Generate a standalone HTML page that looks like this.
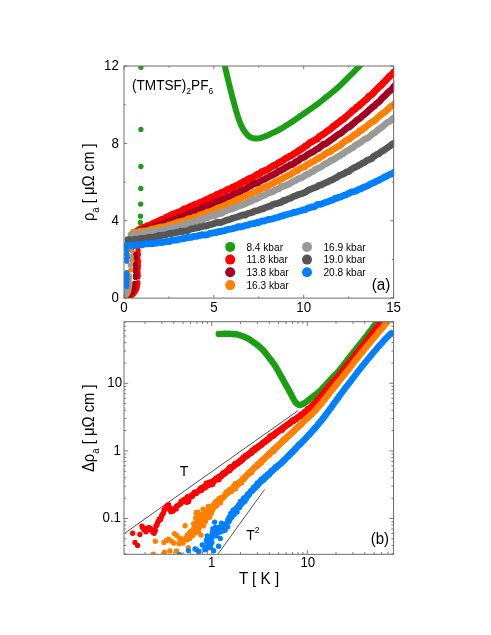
<!DOCTYPE html>
<html><head><meta charset="utf-8"><title>Resistivity of (TMTSF)2PF6</title>
<style>
html,body{margin:0;padding:0;background:#fff;}
body{width:491px;height:635px;overflow:hidden;}
svg{display:block;font-family:"Liberation Sans",sans-serif;fill:#000;will-change:transform;}
</style></head><body>
<svg width="491" height="635" viewBox="0 0 491 635">
<rect width="491" height="635" fill="#ffffff"/>
<defs>
<clipPath id="ca"><rect x="124.0" y="66.0" width="270.20000000000005" height="232.10000000000002"/></clipPath>
<clipPath id="cb"><rect x="124.0" y="321.7" width="270.15000000000003" height="232.59999999999997"/></clipPath>
</defs>
<g clip-path="url(#ca)">
<polyline points="221,49 221.6,51.6 222.1,54.2 222.7,56.8 223.3,59.4 223.9,62 224.5,64.6 225.1,67.2 225.7,69.8 226.3,72.4 226.9,75 227.5,77.6 228.2,80.2 228.8,82.8 229.4,85.4 230.1,88 230.7,90.6 231.4,93.1 232,95.7 232.7,98.3 233.4,100.9 234.1,103.5 234.8,106 235.5,108.6 236.2,111.2 237,113.7 237.8,116.3 238.6,118.8 239.5,121.3 240.5,123.8 241.6,126.2 242.8,128.6 244.2,130.9 245.8,133 247.6,135.1 249.7,136.8 252.1,137.9 254.7,138.4 257.4,138.5 260,138.1 262.6,137.3 265.1,136.4 267.6,135.4 270,134.3 272.4,133.1 274.8,132 277.2,130.8 279.6,129.5 281.9,128.2 284.2,126.8 286.4,125.4 288.7,124 290.9,122.5 293.1,121.1 295.4,119.6 297.6,118.1 299.7,116.5 301.9,115 304.1,113.4 306.3,111.9 308.4,110.4 310.6,108.9 312.9,107.4 315.1,105.8 317.2,104.3 319.3,102.7 321.4,101 323.5,99.3 325.5,97.6 327.6,96 329.7,94.3 331.8,92.7 333.9,91 335.9,89.3 337.9,87.5 339.9,85.7 341.8,83.8 343.7,81.9 345.6,80.1 347.5,78.2 349.4,76.3 351.3,74.4 353.2,72.5 355,70.6 356.9,68.7 358.8,66.8 360.6,64.9 362.4,63 364.2,61 366,59" fill="none" stroke="#1a9e14" stroke-width="6" stroke-linecap="round" stroke-linejoin="round"/>
<path d="M140.9 67.3h0M140.9 129.4h0M140.9 166.5h0M140.8 188.5h0M140.7 204.1h0M140.5 216.2h0M140.3 222.4h0M140.1 228h0" fill="none" stroke="#1a9e14" stroke-width="5.3" stroke-linecap="round"/>
<polyline points="138.7,229.9 140.4,229.2 142.2,228.3 143.9,227.3 145.6,226.7 147.4,225.8 149.1,225.3 150.8,224.9 152.6,223.6 154.3,222.8 156,222.3 157.8,221.5 159.5,220.7 161.2,219.6 163,219.1 164.7,218.6 166.4,217.2 168.2,216.7 169.9,215.5 171.6,214.9 173.4,214 175.1,213.7 176.8,212.6 178.6,212.3 180.3,211.5 182,210.6 183.8,209.1 185.5,209 187.2,208.3 189,207.6 190.7,206.3 192.4,205.9 194.2,205 195.9,204.2 197.6,204 199.4,202.7 201.1,202.1 202.8,201.6 204.6,200.4 206.3,199.7 208,199 209.8,198.2 211.5,197 213.2,196.6 215,196.1 216.7,194.4 218.4,194.4 220.2,193.3 221.9,192.3 223.6,192.2 225.4,191 227.1,189.6 228.8,189.2 230.6,188.5 232.3,187.4 234,186.8 235.8,185.7 237.5,185.1 239.2,184.5 241,183 242.7,182.4 244.4,181.3 246.2,180.6 247.9,179.3 249.6,178.6 251.4,177.8 253.1,177.2 254.8,176.4 256.6,174.7 258.3,174 260,173.5 261.8,171.7 263.5,171.3 265.2,170.4 267,169.9 268.7,168.8 270.5,167.5 272.2,166.5 273.9,165.5 275.7,165.1 277.4,163.5 279.1,162.5 280.9,161.7 282.6,160.6 284.3,159.5 286.1,158.2 287.8,157.5 289.5,156.3 291.3,155.7 293,154.5 294.7,153.2 296.5,152.3 298.2,150.9 299.9,150.3 301.7,148.8 303.4,147.9 305.1,146.2 306.9,145.5 308.6,143.8 310.3,142.5 312.1,141.8 313.8,140.5 315.5,139.6 317.3,139 319,136.9 320.7,135.7 322.5,134.7 324.2,133.6 325.9,132.1 327.7,130.8 329.4,129.8 331.1,128.5 332.9,126.7 334.6,125.6 336.3,124.4 338.1,122.7 339.8,121.7 341.5,120 343.3,119.2 345,117.5 346.7,116.1 348.5,114.5 350.2,113.2 351.9,111.2 353.7,110 355.4,108.9 357.1,106.7 358.9,106.1 360.6,103.8 362.3,103 364.1,101 365.8,99.9 367.5,98.1 369.3,96 371,95.3 372.7,93.7 374.5,91.6 376.2,89.9 377.9,88.2 379.7,86.3 381.4,85.2 383.1,83 384.9,81.4 386.6,79.4 388.3,77.7 390.1,75.7 391.8,74.7 393.5,72.4 395.3,70.9 397,68.8" fill="none" stroke="#ff0000" stroke-width="7" stroke-linecap="round" stroke-linejoin="round"/>
<path d="M137.9 231.4h0M139.6 233.4h0M139 235.4h0M138.2 237.4h0M138.2 239.8h0M138.8 242.1h0M138.3 244.2h0M138.1 250h0M138.1 251.9h0M138.4 254.4h0M137.9 256.6h0M138.1 259h0M138.5 261.6h0M138.3 263.9h0M138.4 265.8h0M138.3 267.9h0M137.9 270.4h0M138.1 272.3h0M138.3 274.7h0M138.1 277h0M138 282.5h0M137.7 285h0M137.2 287.5h0M136.3 290h0M135 292.3h0M133.4 294.3h0M131.6 296h0M129.5 297.3h0M128 297.6h0M126.5 297.6h0M125 297.6h0" fill="none" stroke="#ff0000" stroke-width="5.2" stroke-linecap="round"/>
<polyline points="137,231.1 138.7,230.7 140.5,230.3 142.2,230.2 144,229.6 145.7,229 147.5,228.3 149.2,227.5 151,227.7 152.7,227.2 154.4,226.3 156.2,226 157.9,225.5 159.7,224.9 161.4,224.4 163.2,223.4 164.9,223.4 166.7,222 168.4,222 170.2,221.3 171.9,220.8 173.6,220.4 175.4,219.7 177.1,218.2 178.9,217.4 180.6,217.5 182.4,216.3 184.1,215.9 185.9,215.5 187.6,214.1 189.3,213.2 191.1,213.2 192.8,212.5 194.6,211.7 196.3,211 198.1,210 199.8,209.1 201.6,208.8 203.3,207.8 205.1,206.8 206.8,206.7 208.5,205.8 210.3,205.2 212,204 213.8,203.3 215.5,202.5 217.3,201.7 219,201.3 220.8,200.2 222.5,199.7 224.2,198.9 226,198.6 227.7,196.8 229.5,196.6 231.2,195.5 233,194.7 234.7,193.5 236.5,192.9 238.2,192.5 240,191.4 241.7,190.6 243.4,189.6 245.2,189.2 246.9,188 248.7,186.5 250.4,186.1 252.2,184.8 253.9,183.6 255.7,183.5 257.4,183.2 259.1,181.9 260.9,180.6 262.6,179.8 264.4,179.5 266.1,178.3 267.9,177.4 269.6,176.4 271.4,175.5 273.1,174.8 274.9,173.8 276.6,172.8 278.3,171.4 280.1,171 281.8,169.6 283.6,169.2 285.3,167.5 287.1,166.9 288.8,165.9 290.6,164.6 292.3,164.5 294,163.4 295.8,161.8 297.5,161.2 299.3,160 301,158.1 302.8,157.9 304.5,156.8 306.3,155.8 308,154.3 309.8,153.5 311.5,152.5 313.2,151.8 315,150.4 316.7,149.2 318.5,148.6 320.2,146.8 322,145.7 323.7,144.1 325.5,144 327.2,142.6 328.9,141.4 330.7,140.2 332.4,138.8 334.2,137.6 335.9,136.3 337.7,135 339.4,133.9 341.2,133 342.9,131.5 344.7,130 346.4,128.5 348.1,127.2 349.9,126.5 351.6,124.9 353.4,123.4 355.1,121.9 356.9,120.2 358.6,119.1 360.4,118 362.1,116.2 363.8,114.8 365.6,113.3 367.3,111.9 369.1,109.9 370.8,108.7 372.6,107 374.3,106 376.1,103.9 377.8,102.7 379.6,101.3 381.3,99.1 383,97.4 384.8,95.9 386.5,94.1 388.3,92.1 390,90.8 391.8,89.5 393.5,87 395.3,85.2 397,83.1" fill="none" stroke="#a40021" stroke-width="6.8" stroke-linecap="round" stroke-linejoin="round"/>
<path d="M136.4 232.7h0M135.8 234.7h0M135.5 236.7h0M135.1 238.7h0M135.1 241.1h0M135.9 243h0M135.6 245.5h0M135.3 254h0M135 256h0M135.8 258.2h0M135.1 260.1h0M135.2 262.3h0M135.3 264.6h0M135.5 266.8h0M135.4 269.1h0M135.4 271.3h0M136 273.7h0M135.4 275.7h0M135.5 277.5h0M134.7 283.3h0M134.4 286h0M133.8 288.5h0M132.8 291h0M131.4 293.2h0M129.7 295h0M127.8 296.5h0M126 297.5h0" fill="none" stroke="#a40021" stroke-width="5.2" stroke-linecap="round"/>
<polyline points="133,232.2 134.8,232.6 136.5,232.3 138.3,231.8 140.1,231.1 141.9,231.2 143.6,230.8 145.4,230.9 147.2,231 148.9,230.1 150.7,229.4 152.5,228.9 154.3,228.9 156,228.4 157.8,227.7 159.6,227.7 161.3,226.9 163.1,227.1 164.9,226.6 166.7,226.2 168.4,225.2 170.2,225 172,224.3 173.8,223.7 175.5,223.2 177.3,222.4 179.1,221.8 180.8,222 182.6,221.1 184.4,220.7 186.2,220.3 187.9,218.9 189.7,218.6 191.5,218.3 193.2,217.7 195,216.9 196.8,216.7 198.6,215.8 200.3,214.7 202.1,214.2 203.9,214 205.6,213.3 207.4,211.9 209.2,212.2 211,211.3 212.7,210.8 214.5,209.6 216.3,208.9 218,207.9 219.8,208.3 221.6,206.8 223.4,206.6 225.1,205.2 226.9,204.7 228.7,203.4 230.4,203 232.2,202.6 234,201.2 235.8,201.1 237.5,200.1 239.3,198.9 241.1,198.3 242.9,197.5 244.6,196.8 246.4,195.9 248.2,195 249.9,194.3 251.7,193.3 253.5,192.4 255.3,191.9 257,191.4 258.8,189.8 260.6,189.4 262.3,188.4 264.1,187.4 265.9,187.1 267.7,185.8 269.4,185.5 271.2,184 273,183.4 274.7,182.3 276.5,181.3 278.3,180.8 280.1,179.7 281.8,179 283.6,177.8 285.4,176.6 287.1,176 288.9,175.1 290.7,174.4 292.5,172.9 294.2,172.2 296,170.7 297.8,170.5 299.6,169 301.3,167.8 303.1,167.3 304.9,166.7 306.6,164.9 308.4,164 310.2,163.1 312,162 313.7,161.4 315.5,160 317.3,159 319,158.3 320.8,156.8 322.6,156.1 324.4,154.6 326.1,153.5 327.9,152.2 329.7,152.2 331.4,150.4 333.2,149.5 335,148.3 336.8,147.2 338.5,146 340.3,145.4 342.1,143.4 343.8,142 345.6,141 347.4,139.7 349.2,139.1 350.9,137.9 352.7,136.2 354.5,134.8 356.2,133.8 358,133.1 359.8,130.6 361.6,130.3 363.3,128.5 365.1,127.8 366.9,125.8 368.7,124.7 370.4,123 372.2,121.8 374,121.1 375.7,119.6 377.5,117.8 379.3,116.2 381.1,114.5 382.8,113.5 384.6,112.1 386.4,110.6 388.1,109.1 389.9,107.3 391.7,106 393.5,104.5 395.2,103.3 397,101.9" fill="none" stroke="#ff8000" stroke-width="6.8" stroke-linecap="round" stroke-linejoin="round"/>
<path d="M132.4 236h0M132.3 238.5h0M132.2 242h0M132.1 246h0M132 251h0M132 260.5h0M130.7 270h0M129.4 276h0M129.4 277.8h0M129.3 279.5h0M129.3 281.7h0M129.4 283.5h0M129.4 285.3h0M129.3 287.3h0M129 290.5h0M128.2 292.5h0M127.2 294.3h0M126 295.8h0" fill="none" stroke="#ff8000" stroke-width="5.2" stroke-linecap="round"/>
<polyline points="131,234.8 132.8,234.8 134.6,234.6 136.4,233.9 138.1,234.2 139.9,233.5 141.7,233.5 143.5,233.3 145.3,232.5 147.1,232.9 148.9,232.7 150.6,232.3 152.4,231.9 154.2,231.6 156,231.1 157.8,230.9 159.6,230.5 161.3,230.3 163.1,229.5 164.9,229.6 166.7,229.2 168.5,228.7 170.3,228.2 172.1,228.1 173.8,227 175.6,227.1 177.4,226.6 179.2,226.2 181,225.7 182.8,224.9 184.6,224.6 186.3,224.3 188.1,223.8 189.9,223.2 191.7,222.2 193.5,222.2 195.3,221.9 197.1,221.3 198.8,220.5 200.6,219.4 202.4,219.6 204.2,218.7 206,217.4 207.8,217.7 209.6,216.5 211.3,215.9 213.1,215.5 214.9,215.5 216.7,214.4 218.5,213.9 220.3,213.7 222,213 223.8,211.9 225.6,211.1 227.4,210.2 229.2,209.7 231,209.3 232.8,208.6 234.5,207.8 236.3,207.4 238.1,206.2 239.9,205.7 241.7,205.2 243.5,204.4 245.3,203.8 247,202.9 248.8,201.9 250.6,201.4 252.4,200.2 254.2,199.2 256,199.1 257.8,198.2 259.5,197.5 261.3,196.1 263.1,195.7 264.9,194.8 266.7,193.9 268.5,192.7 270.2,192.5 272,192 273.8,191 275.6,189.9 277.4,189.2 279.2,188.6 281,186.7 282.7,186.6 284.5,186 286.3,185.1 288.1,184.5 289.9,183.5 291.7,182.3 293.5,181.4 295.2,180.7 297,179.4 298.8,178.6 300.6,178 302.4,177.3 304.2,175.8 306,174.9 307.7,174 309.5,173.4 311.3,172 313.1,171.5 314.9,169.7 316.7,169 318.4,168 320.2,167.3 322,166.4 323.8,164.6 325.6,163.7 327.4,163.1 329.2,161.7 330.9,160.4 332.7,160.1 334.5,158.9 336.3,157.8 338.1,156.5 339.9,155.8 341.7,154.3 343.4,153.6 345.2,151.9 347,150.8 348.8,150 350.6,148.6 352.4,147.8 354.2,146.6 355.9,145 357.7,144.2 359.5,142.8 361.3,142 363.1,140.3 364.9,139.2 366.7,138.4 368.4,137.5 370.2,136.2 372,134.3 373.8,133.1 375.6,132.2 377.4,130.4 379.1,128.9 380.9,127.9 382.7,126.6 384.5,124.9 386.3,123.3 388.1,122 389.9,121.3 391.6,119.4 393.4,118.2 395.2,116.9 397,115.6" fill="none" stroke="#9a9a9a" stroke-width="6.8" stroke-linecap="round" stroke-linejoin="round"/>
<path d="M129.6 239.5h0M130.6 242h0M131 245h0M131.4 256.5h0M130.3 265.2h0M128.6 275h0M128.5 277.4h0M128.5 279.5h0M128.6 281.5h0M128.6 283.6h0M128.7 285.6h0M128.1 289.5h0M127.3 291.5h0M126.3 293.2h0M125.2 294.5h0M126.2 291h0M125.3 292.5h0M124.6 296h0" fill="none" stroke="#9a9a9a" stroke-width="5.2" stroke-linecap="round"/>
<polyline points="128,239.7 129.8,239.7 131.6,240.4 133.4,239.8 135.2,239.2 137,239.3 138.8,239.4 140.6,238.5 142.4,238.3 144.2,238.5 146.1,238 147.9,237.8 149.7,237.2 151.5,237.7 153.3,237.3 155.1,236.7 156.9,236.4 158.7,235.3 160.5,235.8 162.3,235.2 164.1,235.1 165.9,234.9 167.7,234.2 169.5,233.5 171.3,233.7 173.1,233.1 174.9,232.8 176.7,232.4 178.6,232.1 180.4,231.1 182.2,231.8 184,231.1 185.8,231 187.6,230.8 189.4,229.8 191.2,228.9 193,228.7 194.8,228.2 196.6,228 198.4,227.7 200.2,226.7 202,226.9 203.8,225.9 205.6,226 207.4,225.4 209.2,224.9 211,224.5 212.9,223.9 214.7,223.4 216.5,222.5 218.3,222.5 220.1,222.6 221.9,222.1 223.7,221.4 225.5,220.7 227.3,219.8 229.1,219.9 230.9,218.9 232.7,218.4 234.5,217.7 236.3,217.3 238.1,216.6 239.9,216.1 241.7,215.3 243.5,214.9 245.3,215.1 247.2,213.8 249,213.2 250.8,212.8 252.6,212.3 254.4,211.1 256.2,210.8 258,210.5 259.8,209.7 261.6,209 263.4,208.8 265.2,207.5 267,207.1 268.8,206.3 270.6,206.2 272.4,204.5 274.2,204.2 276,203.6 277.8,203.3 279.7,202.6 281.5,202.1 283.3,200.5 285.1,200.5 286.9,199.5 288.7,198.7 290.5,198.3 292.3,197.2 294.1,196.1 295.9,195.8 297.7,194.8 299.5,194.2 301.3,193.8 303.1,193 304.9,192.6 306.7,191.3 308.5,190.1 310.3,189.5 312.1,188.7 314,187.8 315.8,187.5 317.6,186.3 319.4,185.1 321.2,185 323,184 324.8,183.2 326.6,182.3 328.4,181.6 330.2,180.5 332,180 333.8,178.9 335.6,178 337.4,177 339.2,175.6 341,175 342.8,174.1 344.6,173.3 346.4,171.8 348.3,171.8 350.1,170.3 351.9,169 353.7,167.8 355.5,167.2 357.3,166.3 359.1,165.1 360.9,164.3 362.7,163 364.5,162.4 366.3,160.9 368.1,160 369.9,159.3 371.7,158.7 373.5,156.5 375.3,155.5 377.1,154.3 378.9,153.7 380.8,151.9 382.6,151 384.4,149.9 386.2,148.5 388,147.3 389.8,146.2 391.6,144.5 393.4,143.5 395.2,142.6 397,141.5" fill="none" stroke="#565656" stroke-width="6.8" stroke-linecap="round" stroke-linejoin="round"/>
<path d="M127.4 243h0M127.2 246h0M127 250h0M127 254h0M127 258h0M126.8 274h0M126.8 276.3h0M126.9 278.3h0M126.7 280.1h0M126.7 282.4h0M126.7 284.3h0M126.8 286.1h0" fill="none" stroke="#565656" stroke-width="5.2" stroke-linecap="round"/>
<polyline points="125.8,245.8 127.6,246.1 129.4,245.5 131.3,245.5 133.1,246.1 134.9,245.5 136.7,244.9 138.5,244.9 140.4,244.8 142.2,244.9 144,244.2 145.8,243.6 147.6,243.8 149.5,243.7 151.3,243.5 153.1,243.7 154.9,243.1 156.7,243 158.6,242.2 160.4,242.5 162.2,242.7 164,242 165.8,241.6 167.7,241.3 169.5,241.5 171.3,240.4 173.1,240.3 174.9,240.2 176.8,240 178.6,239.3 180.4,239.2 182.2,238.7 184,238.5 185.9,238.1 187.7,237.5 189.5,237.5 191.3,237.4 193.1,236.5 195,236.4 196.8,236.3 198.6,235.5 200.4,235.5 202.2,234.7 204.1,235 205.9,235 207.7,234.6 209.5,233.5 211.3,233.4 213.2,232.9 215,232.5 216.8,232.5 218.6,231.3 220.4,231.6 222.3,230.8 224.1,230.9 225.9,230.1 227.7,229.4 229.5,229.3 231.4,229 233.2,228.4 235,228.1 236.8,227.4 238.6,226.5 240.5,227 242.3,226.5 244.1,225.9 245.9,225.4 247.7,225.2 249.6,224.4 251.4,223.8 253.2,223.5 255,223.5 256.8,222.3 258.7,222.6 260.5,221.5 262.3,220.9 264.1,221.2 266,220.3 267.8,219.5 269.6,219.3 271.4,219.2 273.2,218.7 275.1,217.8 276.9,217.5 278.7,217.1 280.5,216.2 282.3,216 284.2,215.3 286,214.7 287.8,214.2 289.6,213.8 291.4,213.3 293.3,212.6 295.1,212.1 296.9,212 298.7,211.2 300.5,210.8 302.4,210.3 304.2,209.6 306,209.5 307.8,208 309.6,207.9 311.5,207 313.3,207.1 315.1,206.4 316.9,204.7 318.7,204.4 320.6,204.3 322.4,203.7 324.2,203 326,202.2 327.8,201.7 329.7,201.1 331.5,200.2 333.3,199.9 335.1,198.2 336.9,198.4 338.8,197.2 340.6,197.1 342.4,196.1 344.2,195.2 346,194.8 347.9,193.7 349.7,193 351.5,192 353.3,191.8 355.1,191.2 357,190.5 358.8,189.4 360.6,189 362.4,187.9 364.2,187 366.1,186.4 367.9,185.7 369.7,184.4 371.5,183.6 373.3,182.8 375.2,182 377,180.8 378.8,180.4 380.6,179.1 382.4,178.4 384.3,177.1 386.1,176.5 387.9,175.5 389.7,174.3 391.5,174.1 393.4,172.6 395.2,172 397,170.7" fill="none" stroke="#0080ff" stroke-width="6.8" stroke-linecap="round" stroke-linejoin="round"/>
<path d="M126.2 248h0M126.7 250.5h0M126.6 254.5h0M126.9 258h0M126.7 261.2h0M126.7 272.6h0M126.8 274.6h0M126.6 276.6h0M126.7 278.9h0M126.7 280.9h0M126.5 283.1h0M126.5 284.8h0M126.6 286.4h0" fill="none" stroke="#0080ff" stroke-width="5.2" stroke-linecap="round"/>
</g>
<g clip-path="url(#cb)">
<line x1="124.3" y1="533.5" x2="298.2" y2="410.5" stroke="#222" stroke-width="0.8"/>
<line x1="218" y1="554" x2="264.6" y2="489.4" stroke="#222" stroke-width="0.8"/>
<polyline points="218.8,334 220.5,333.9 222.3,333.9 224,333.8 225.7,333.8 227.5,333.8 229.2,333.8 230.9,333.9 232.7,334 234.4,334.2 236.1,334.3 237.8,334.7 239.5,335.1 241.2,335.7 242.8,336.2 244.4,336.8 246,337.6 247.5,338.4 249.1,339.2 250.5,340.1 252,341.1 253.4,342.1 254.8,343.1 256.2,344.2 257.6,345.2 258.9,346.3 260.2,347.5 261.5,348.6 262.7,349.8 263.9,351.1 265,352.4 266.1,353.8 267.2,355.2 268.3,356.5 269.3,357.9 270.4,359.3 271.4,360.7 272.5,362.1 273.5,363.5 274.5,364.9 275.4,366.3 276.3,367.8 277.2,369.3 278.1,370.8 278.9,372.3 279.7,373.9 280.6,375.4 281.4,376.9 282.3,378.4 283.1,379.9 284,381.4 284.8,383 285.6,384.5 286.5,386 287.3,387.5 288.2,389 289,390.5 289.8,392.1 290.6,393.6 291.4,395.1 292.2,396.7 293.1,398.2 293.9,399.7 294.8,401.3 295.8,402.8 297,403.8 298.6,404.8 300.2,405 301.9,404.4 303.5,403.7 305,402.8 306.4,401.9 307.8,400.7 309.1,399.6 310.4,398.5 311.8,397.4 313.2,396.4 314.7,395.4 316.1,394.4 317.4,393.3 318.7,392.2 319.9,391 321.2,389.8 322.4,388.5 323.6,387.3 324.7,386 325.9,384.7 327.1,383.4 328.2,382.1 329.4,380.8 330.6,379.5 331.7,378.2 332.9,377 334.2,375.7 335.4,374.5 336.7,373.3 337.9,372.1 339,370.8 340.1,369.5 341.2,368.1 342.3,366.8 343.4,365.4 344.4,364 345.4,362.6 346.5,361.2 347.5,359.8 348.6,358.4 349.6,357.1 350.7,355.7 351.8,354.3 352.9,353 354,351.6 355.1,350.3 356.1,349 357.2,347.6 358.3,346.3 359.4,344.9 360.5,343.6 361.6,342.2 362.7,340.9 363.8,339.5 364.8,338.1 365.9,336.8 367,335.4 368,334 369.1,332.6 370.1,331.3 371.2,329.9 372.2,328.5 373.3,327.1 374.3,325.7 375.4,324.4 376.4,323 377.5,321.6 378.6,320.3 379.7,318.9 380.7,317.6 381.8,316.2 382.9,314.9 384,313.5" fill="none" stroke="#1a9e14" stroke-width="6.4" stroke-linecap="round" stroke-linejoin="round"/>
<polyline points="200.1,489.7 201.7,488.7 203.4,487.6 205,486.6 206.7,485.5 208.3,484.5 210,483.4 211.6,482.3 213.3,481.2 214.9,480.1 216.6,479 218.2,477.8 219.9,476.7 221.6,475.5 223.2,474.3 224.9,473 226.5,471.7 228.2,470.4 229.8,469.1 231.5,467.8 233.1,466.5 234.8,465.2 236.4,463.9 238.1,462.6 239.7,461.3 241.4,460 243,458.6 244.7,457.3 246.3,456 248,454.7 249.6,453.4 251.3,452.1 252.9,450.8 254.6,449.6 256.2,448.3 257.9,447 259.5,445.7 261.2,444.5 262.9,443.2 264.5,441.9 266.2,440.7 267.8,439.4 269.5,438.1 271.1,436.8 272.8,435.5 274.4,434.3 276.1,433 277.7,431.8 279.4,430.5 281,429.3 282.7,428.1 284.3,426.9 286,425.7 287.6,424.5 289.3,423.3 290.9,422.2 292.6,421 294.2,419.9 295.9,418.8 297.5,417.6 299.2,416.5 300.9,415.3 302.5,414.1 304.2,412.8 305.8,411.5 307.5,410.2 309.1,408.8 310.8,407.3 312.4,405.8 314.1,404.1 315.7,402.3 317.4,400.5 319,398.7 320.7,396.7 322.3,394.7 324,392.7 325.6,390.7 327.3,388.7 328.9,386.7 330.6,384.7 332.2,382.8 333.9,381 335.5,379.3 337.2,377.5 338.8,375.6 340.5,373.7 342.2,371.6 343.8,369.5 345.5,367.3 347.1,365.2 348.8,363.1 350.4,361 352.1,358.9 353.7,356.9 355.4,354.8 357,352.8 358.7,350.8 360.3,348.8 362,346.7 363.6,344.7 365.3,342.6 366.9,340.5 368.6,338.4 370.2,336.2 371.9,334.1 373.5,331.9 375.2,329.8 376.8,327.6 378.5,325.5 380.2,323.4 381.8,321.3 383.5,319.1 385.1,317 386.8,314.9" fill="none" stroke="#ff0000" stroke-width="6.4" stroke-linecap="round" stroke-linejoin="round"/>
<path d="M182 500.9h0M182.6 501.9h0M183.1 501.7h0M183.7 499.8h0M184.2 499.8h0M184.8 501.6h0M185.3 500.6h0M185.9 498.8h0M186.4 502.3h0M187 502.3h0M187.5 496.7h0M188.1 498.8h0M188.6 501.4h0M189.2 498.7h0M189.7 497.5h0M190.3 496.6h0M190.8 495.7h0M191.4 495.8h0M191.9 494.9h0M192.5 496.2h0M193 494.3h0M193.6 493.8h0M194.1 492.4h0M194.7 493.5h0M195.2 492h0M195.8 492.5h0M196.3 493.6h0M196.9 492.4h0M197.4 492.1h0M198 491.6h0M198.5 490.8h0M199.1 490.2h0M199.6 489.7h0M200.2 490.6h0M200.7 488h0M201.3 490.6h0M201.8 488.7h0M202.4 487.4h0M202.9 487.3h0M203.5 486.8h0M204 487.4h0M204.6 486h0M205.1 487.9h0M205.7 485.3h0M206.2 483.2h0M206.8 484.7h0M207.3 482.9h0M207.9 484.7h0M208.4 485.6h0M209 484.8h0M209.5 482.2h0M210.1 482.5h0M210.6 484.9h0M211.2 483h0M211.7 482.2h0M212.3 483h0M212.8 484.2h0M213.4 482.5h0M213.9 480.9h0M214.5 480.8h0M215 480.7h0M215.6 479h0M216.1 478.2h0M216.7 479h0M217.2 477.6h0M217.8 478.1h0M218.3 477.9h0M218.9 479.8h0M219.4 476.1h0M220 476.5h0M220.5 476.1h0M221.1 476.3h0M221.6 476.5h0M222.2 474.5h0M222.7 473.8h0M223.3 472.6h0M223.8 472.9h0M224.4 473.9h0M224.9 473h0M225.5 471.6h0M226 471.8h0M226.6 471.7h0M227.1 471.8h0M227.7 470.3h0M228.2 470.2h0M228.8 468.3h0M229.3 468.5h0M229.9 470.6h0M230.4 466.7h0M231 467.9h0M231.5 468h0M232.1 467h0M232.6 466.2h0M233.2 466.5h0M233.7 466.1h0M234.3 465.6h0M234.8 463.5h0M235.4 464.7h0M235.9 463.6h0M236.5 463.4h0M237 463.7h0M237.6 463.6h0M238.1 463.4h0M238.7 461.7h0M239.2 462.5h0M239.8 462.3h0M240.3 461.8h0M240.9 461.6h0M241.4 459.8h0M242 459.4h0M242.5 459.7h0M243.1 457.5h0M243.6 458.3h0M244.2 457.3h0M244.7 457h0M245.3 455.4h0M245.8 455.7h0M246.4 456h0M246.9 456.3h0M247.5 455.9h0M248 454.6h0M248.6 454.1h0M249.1 453.2h0M249.7 453.7h0M250.2 452.8h0M250.8 453h0M251.3 453.5h0M251.9 451.7h0M252.4 450.1h0M253 450.2h0M253.5 449.3h0M254.1 449.1h0M254.6 450.6h0M255.2 449.3h0M255.7 447.6h0M256.3 448.8h0M256.8 448.8h0M257.4 447.2h0M257.9 446.5h0M258.5 446.3h0M259 446.4h0M259.6 446.2h0M260.1 446.2h0M260.7 445.8h0M261.2 445.3h0M261.8 445h0M262.3 444.1h0M262.9 442.1h0M263.4 442.7h0M264 442.6h0M264.5 441.7h0M265.1 442.2h0M265.6 440.8h0M266.2 440h0M266.7 441.2h0M267.3 440.3h0M267.8 439.5h0M268.4 439.6h0M268.9 439.3h0M269.5 438.3h0M270 436h0M270.6 436.8h0M271.1 436.5h0M271.7 435.7h0M272.2 436.1h0M272.8 436.4h0M273.3 434.8h0M273.9 434h0M274.4 435.6h0M275 433.6h0M275.5 432.6h0M276.1 433.2h0M276.6 432.9h0M277.2 431.7h0M277.7 432.3h0M278.3 431h0M278.8 430.4h0M279.4 430.6h0M279.9 430.6h0M280.5 429.3h0M281 429.5h0M281.6 428.8h0M282.1 430.3h0M282.7 427.6h0M283.2 428.6h0M283.8 427.3h0M284.3 426.8h0M284.9 426.9h0M285.4 426.6h0M286 426.5h0M286.5 425.5h0M287.1 424.5h0M287.6 424.2h0M288.2 424.4h0M288.7 424.1h0M289.3 424.2h0M289.8 423.2h0M290.4 423.2h0M290.9 423.1h0M291.5 421.9h0M292 420.5h0M292.6 420.4h0M293.1 419.8h0M293.7 421.2h0M294.2 419.4h0M294.8 420.3h0M295.3 419.5h0M295.9 419.8h0M296.4 419h0M297 418h0M297.5 417.5h0M298.1 417.3h0M298.6 417h0M299.2 416.2h0M299.7 416.1h0M300.3 416.6h0M300.8 414.4h0M301.4 415.1h0M301.9 414h0M302.5 414.2h0M303 414.2h0M303.6 413.2h0M304.1 413.3h0M304.7 411.5h0M305.2 412.6h0M305.8 411.2h0M306.3 411.5h0M306.9 410.8h0M307.4 408.8h0M308 409.4h0M308.5 409.4h0M309.1 409.7h0M309.6 408.5h0M310.2 408h0M310.7 406.6h0M311.3 407.7h0M311.8 407.3h0M312.4 405.9h0M312.9 405.2h0M313.5 403.9h0M314 404.7h0M314.6 405h0M315.1 403.4h0M315.7 403.1h0M316.2 402.1h0M316.8 400.7h0M317.3 401.3h0M317.9 399.4h0M318.4 399.3h0M319 398.9h0M319.5 398.5h0M320.1 397.7h0M320.6 397h0M321.2 395.8h0M321.7 394.9h0M322.3 394.9h0M322.8 393.8h0M323.4 392.9h0M323.9 392.2h0M324.5 391.9h0M325 390.6h0M325.6 390.2h0M326.1 389.3h0M326.7 389.6h0M327.2 389h0M327.8 389.1h0M328.3 386.7h0M328.9 386.5h0M329.4 386.6h0M330 385.4h0M330.5 384.7h0M331.1 385h0M331.6 383.4h0M332.2 382.4h0M332.7 381.7h0M333.3 381.8h0M333.8 381.2h0M334.4 379.8h0M334.9 379.5h0M335.5 379.6h0M336 379.1h0M336.6 377.9h0M337.1 377.9h0M337.7 377.3h0M338.2 375.6h0M338.8 375.6h0M339.3 375.3h0M339.9 374.2h0M132.7 533.2h0M139.9 534.4h0M135 542.5h0M137.6 545.4h0M142 526.1h0M142.6 527.8h0M143.2 528h0M143.7 528.8h0M144.3 529.9h0M144.9 529.8h0M145.5 530.5h0M146 531.8h0M146.6 529.6h0M147.2 530h0M147.8 528h0M148.4 528.4h0M148.9 527.7h0M149.5 527.8h0M150.1 528.5h0M150.7 529.7h0M151.3 529.4h0M151.8 530h0M152.4 530.4h0M153 532.5h0M153.6 532.7h0M154.1 533.2h0M154.7 531.4h0M155.3 530.5h0M155.9 526.2h0M156.5 525.4h0M157 524.8h0M157.6 522.8h0M158.2 521.4h0M158.8 520.7h0M159.3 519h0M159.9 518.9h0M160.5 519.5h0M161.1 517.8h0M161.7 515.6h0M162.2 514.8h0M162.8 513.9h0M163.4 513.1h0M164 510.3h0M164.6 509.2h0M165.1 509.3h0M165.7 508.5h0M166.3 507.1h0M166.9 506.1h0M167.4 505.4h0M168 505.7h0M168.6 504.7h0M169.2 507.2h0M169.8 507.8h0M170.3 509.9h0M170.9 511.8h0M171.5 511.5h0M172.1 510h0M172.6 511h0M173.2 511h0M173.8 509.5h0M174.4 509.1h0M175 509.2h0M175.5 507.8h0M176.1 508.9h0M176.7 505.9h0M177.3 505.9h0M177.9 505.8h0M178.4 505.2h0M179 504.9h0M179.6 504.4h0M180.2 503.5h0M180.7 503.8h0M181.3 501.2h0M181.9 502h0" fill="none" stroke="#ff0000" stroke-width="5.4" stroke-linecap="round"/>
<polyline points="226.3,494.1 227.9,492.7 229.5,491.3 231.1,489.9 232.7,488.5 234.3,487.2 235.9,485.9 237.5,484.5 239.1,483.1 240.7,481.7 242.3,480.1 243.9,478.5 245.5,476.8 247.1,475.1 248.7,473.5 250.3,471.9 251.9,470.3 253.5,468.8 255.1,467.3 256.7,465.8 258.3,464.3 259.9,462.7 261.5,461.2 263.1,459.7 264.7,458.2 266.3,456.7 267.9,455.2 269.5,453.7 271.2,452.1 272.8,450.6 274.4,449.1 276,447.6 277.6,446.1 279.2,444.6 280.8,443.1 282.4,441.6 284,440.1 285.6,438.6 287.2,437.1 288.8,435.6 290.4,434.1 292,432.6 293.6,431.1 295.2,429.6 296.8,428.1 298.4,426.6 300,425.1 301.6,423.6 303.2,422 304.8,420.5 306.4,419.1 308,417.6 309.6,416.1 311.2,414.6 312.8,413 314.4,411.4 316,409.7 317.6,407.9 319.2,406 320.9,404 322.5,402 324.1,400 325.7,397.9 327.3,395.9 328.9,393.8 330.5,391.8 332.1,389.8 333.7,387.9 335.3,385.9 336.9,383.9 338.5,381.9 340.1,379.9 341.7,377.9 343.3,375.9 344.9,373.9 346.5,371.9 348.1,369.9 349.7,367.9 351.3,365.9 352.9,363.8 354.5,361.8 356.1,359.8 357.7,357.7 359.3,355.7 360.9,353.7 362.5,351.7 364.1,349.7 365.7,347.8 367.3,345.8 368.9,343.9 370.6,341.9 372.2,340 373.8,338 375.4,336.1 377,334.2 378.6,332.3 380.2,330.4 381.8,328.5 383.4,326.6 385,324.7 386.6,322.8 388.2,320.9 389.8,318.9 391.4,317 393,315 394.6,313" fill="none" stroke="#ff8000" stroke-width="6.4" stroke-linecap="round" stroke-linejoin="round"/>
<path d="M196 512.8h0M196.5 521.4h0M197 525.8h0M197.5 528.9h0M198 512.2h0M198.5 532h0M199 516.2h0M199.5 524.1h0M200 524.7h0M200.5 523.2h0M201 519.6h0M201.5 514.6h0M202 520.4h0M202.5 515.4h0M203 509.1h0M203.5 525.8h0M204 518.6h0M204.5 521.4h0M205 512.8h0M205.5 519.2h0M206 518.9h0M206.5 518.2h0M207 513.4h0M207.5 509.9h0M208 512h0M208.5 506.5h0M209 507.4h0M209.5 511.2h0M210 508.2h0M210.5 509.6h0M211 509.2h0M211.5 513.1h0M212 511.1h0M212.5 507.6h0M213 509.6h0M213.5 505h0M214 505.3h0M214.5 507.1h0M215 502.5h0M215.5 503.8h0M216 501.4h0M216.5 503.5h0M217 505.6h0M217.5 501h0M218 502.1h0M218.5 499.8h0M219 498.9h0M219.5 498.3h0M220 502.1h0M220.5 502.9h0M221 499.6h0M221.5 497.4h0M222 499h0M222.5 497h0M223 498.2h0M223.5 497h0M224 496.5h0M224.5 496.5h0M225 494.5h0M225.5 494.3h0M226 492.2h0M226.5 493.4h0M227 491.7h0M227.5 492.9h0M228 491.4h0M228.5 492.3h0M229 492.3h0M229.5 489.6h0M230 489.9h0M230.5 489.3h0M231 490.8h0M231.5 491.4h0M232 490h0M232.5 488.3h0M233 489.8h0M233.5 486.2h0M234 489h0M234.5 486.3h0M235 483.8h0M235.5 488.8h0M236 487.3h0M236.5 484.3h0M237 485.1h0M237.5 484.3h0M238 484.2h0M238.5 482.3h0M239 482.6h0M239.5 483.2h0M240 482.5h0M240.5 482.9h0M241 481.4h0M241.5 483h0M242 479.8h0M242.5 480.1h0M243 477.7h0M243.5 477.8h0M244 479.5h0M244.5 477.1h0M245 477.8h0M245.5 476.8h0M246 475.4h0M246.5 475.5h0M247 474.8h0M247.5 474.3h0M248 474.8h0M248.5 474.2h0M249 472.7h0M249.5 472h0M250 472.4h0M250.5 471.6h0M251 472h0M251.5 472.7h0M252 470.9h0M252.5 469.7h0M253 469.2h0M253.5 468.2h0M254 467.7h0M254.5 467.1h0M255 467.1h0M255.5 466.6h0M256 467h0M256.5 465.7h0M257 465.4h0M257.5 464.2h0M258 465.7h0M258.5 464.4h0M259 464.8h0M259.5 463.7h0M260 463.7h0M260.5 462h0M261 462.2h0M261.5 463h0M262 460h0M262.5 461.1h0M263 460.9h0M263.5 459.6h0M264 459.4h0M264.5 459.2h0M265 457.5h0M265.5 457.7h0M266 456.4h0M266.5 456.1h0M267 455.7h0M267.5 455.5h0M268 455.2h0M268.5 454.9h0M269 453.3h0M269.5 454.9h0M270 453.9h0M270.5 453.2h0M271 452.1h0M271.5 451.8h0M272 451.7h0M272.5 451.1h0M273 449.4h0M273.5 450.4h0M274 451.2h0M274.5 447.9h0M275 449.1h0M275.5 448.3h0M276 447.5h0M276.5 447.9h0M277 446h0M277.5 446.3h0M278 446.5h0M278.5 445.1h0M279 444.5h0M279.5 444.4h0M280 443.6h0M280.5 444.2h0M281 442.4h0M281.5 442.9h0M282 441.3h0M282.5 441.8h0M283 441h0M283.5 439.1h0M284 440.1h0M284.5 439h0M285 438.9h0M285.5 439.5h0M286 437.6h0M286.5 437.2h0M287 438h0M287.5 436.9h0M288 437.1h0M288.5 436h0M289 434.9h0M289.5 434.9h0M290 435.1h0M290.5 434.5h0M291 433.5h0M291.5 433.1h0M292 432.5h0M292.5 431.8h0M293 432.6h0M293.5 431.2h0M294 430.1h0M294.5 430h0M295 430.1h0M295.5 429.6h0M296 428.8h0M296.5 428h0M297 427.9h0M297.5 426.6h0M298 426.3h0M298.5 426.9h0M299 425.8h0M299.5 425.7h0M300 425.7h0M300.5 424.9h0M301 424.1h0M301.5 424.7h0M302 423.5h0M302.5 422.6h0M303 422.6h0M303.5 422h0M304 420.9h0M304.5 420.9h0M305 420.3h0M305.5 419h0M306 419.4h0M306.5 418.9h0M307 418.3h0M307.5 417.3h0M308 417.4h0M308.5 417.1h0M309 416.7h0M309.5 415.7h0M310 416h0M310.5 414.7h0M311 414.7h0M311.5 414.9h0M312 413.5h0M312.5 413.1h0M313 413.3h0M313.5 412.2h0M314 411.7h0M314.5 411.4h0M315 411.3h0M315.5 409.3h0M316 409.4h0M316.5 408.7h0M317 408.1h0M317.5 407.7h0M318 407.1h0M318.5 407h0M319 405.9h0M319.5 405.7h0M320 405.2h0M320.5 404.1h0M321 403.9h0M321.5 403.9h0M322 402.7h0M322.5 401.7h0M323 401.3h0M323.5 400.3h0M324 400.2h0M324.5 399.8h0M325 398.4h0M325.5 398.1h0M326 398h0M326.5 396.7h0M327 396.3h0M327.5 395.2h0M328 394.6h0M328.5 394.1h0M329 394.5h0M329.5 392.9h0M330 392.2h0M330.5 391.6h0M331 391.1h0M331.5 390.8h0M332 390h0M332.5 390.1h0M333 388.8h0M333.5 388.6h0M334 387.6h0M334.5 387.1h0M335 385.7h0M335.5 385.6h0M336 385h0M336.5 384.3h0M337 382.9h0M337.5 383.5h0M338 382.4h0M338.5 381.7h0M339 381.2h0M339.5 380.6h0M174.5 533.8h0M177.1 535.7h0M179.8 538.4h0M182.4 539.7h0M185.1 538.4h0M187.1 535.1h0M189.1 533.1h0M191 531.1h0M193.7 528.5h0M196.3 526.5h0M199 528.5h0M195.7 517.9h0M193.7 523.8h0M185.1 525.8h0M201 535.1h0M179.1 543.7h0M183.1 543h0M187.1 539.7h0M189.7 538.4h0M192.4 535.7h0M195 533.1h0M197.7 531.1h0M200.3 526.5h0M168.5 539.1h0M171.2 541h0M173.8 543h0M163.9 542.4h0M166.5 540.4h0M155.3 541.3h0M188.4 547.7h0M176.5 551h0M169.9 551h0M164.6 552.3h0M153.3 554.3h0M203 523.8h0M204.3 519.9h0M206.3 515.9h0M208.2 512.6h0M202.3 515.9h0M205.6 521.2h0M209.6 517.2h0M199 521.2h0" fill="none" stroke="#ff8000" stroke-width="5.4" stroke-linecap="round"/>
<polyline points="252.1,490.5 253.6,488.9 255.1,487.4 256.6,485.8 258.1,484.3 259.6,482.8 261.1,481.3 262.6,479.8 264.1,478.3 265.6,476.8 267.2,475.3 268.7,473.9 270.2,472.5 271.7,471.2 273.2,469.9 274.7,468.6 276.2,467.4 277.7,466.1 279.2,464.8 280.7,463.5 282.2,462 283.8,460.5 285.3,459 286.8,457.5 288.3,455.9 289.8,454.4 291.3,452.9 292.8,451.4 294.3,449.9 295.8,448.4 297.3,446.8 298.8,445.3 300.4,443.8 301.9,442.2 303.4,440.7 304.9,439.1 306.4,437.5 307.9,435.8 309.4,434.2 310.9,432.6 312.4,430.9 313.9,429.2 315.5,427.5 317,425.8 318.5,424 320,422.2 321.5,420.4 323,418.5 324.5,416.5 326,414.5 327.5,412.5 329,410.4 330.5,408.3 332.1,406.2 333.6,404.1 335.1,402 336.6,399.9 338.1,397.8 339.6,395.7 341.1,393.6 342.6,391.6 344.1,389.6 345.6,387.6 347.1,385.7 348.7,383.7 350.2,381.8 351.7,379.8 353.2,377.8 354.7,375.8 356.2,373.8 357.7,371.8 359.2,369.9 360.7,368 362.2,366.1 363.8,364.2 365.3,362.4 366.8,360.5 368.3,358.7 369.8,356.9 371.3,355.1 372.8,353.3 374.3,351.5 375.8,349.8 377.3,348 378.8,346.2 380.4,344.5 381.9,342.8 383.4,341.1 384.9,339.5 386.4,337.9 387.9,336.4 389.4,334.9 390.9,333.5" fill="none" stroke="#0080ff" stroke-width="6.4" stroke-linecap="round" stroke-linejoin="round"/>
<path d="M206 549.4h0M206.4 540.2h0M206.8 541.5h0M207.3 547h0M207.7 545.8h0M208.1 542.7h0M208.5 541.3h0M208.9 539.6h0M209.4 542.5h0M209.8 547.3h0M210.2 537h0M210.6 547.3h0M211 543.8h0M211.5 537.9h0M211.9 542.2h0M212.3 532.9h0M212.7 531.4h0M213.1 532.6h0M213.6 535.3h0M214 535.1h0M214.4 533.9h0M214.8 535.5h0M215.2 527.4h0M215.7 535.9h0M216.1 529.1h0M216.5 531.2h0M216.9 531.5h0M217.3 528.8h0M217.8 527.8h0M218.2 528.6h0M218.6 531.2h0M219 532.5h0M219.4 532h0M219.9 527.2h0M220.3 527.5h0M220.7 526.8h0M221.1 530.1h0M221.5 523.1h0M222 531.3h0M222.4 526.5h0M222.8 525.3h0M223.2 527.7h0M223.6 529h0M224.1 526.9h0M224.5 528.1h0M224.9 525.5h0M225.3 527.5h0M225.7 527h0M226.2 523.5h0M226.6 526.4h0M227 523.1h0M227.4 522.3h0M227.8 519.7h0M228.3 520.5h0M228.7 522.1h0M229.1 517.3h0M229.5 520.6h0M229.9 519.5h0M230.4 518.7h0M230.8 513.4h0M231.2 516.8h0M231.6 517.6h0M232 514.4h0M232.5 515.4h0M232.9 510.4h0M233.3 515.2h0M233.7 512.3h0M234.1 514.4h0M234.6 509.2h0M235 512.8h0M235.4 510.7h0M235.8 511.8h0M236.2 508.3h0M236.7 508.2h0M237.1 512.1h0M237.5 506.7h0M237.9 506.3h0M238.3 506.3h0M238.8 504.6h0M239.2 507.4h0M239.6 507.6h0M240 503.4h0M240.4 501.4h0M240.9 505.1h0M241.3 504.4h0M241.7 503.5h0M242.1 503.4h0M242.5 500.1h0M243 500.6h0M243.4 498.4h0M243.8 497.9h0M244.2 500.6h0M244.6 497.9h0M245.1 501.2h0M245.5 497.9h0M245.9 496.5h0M246.3 497.8h0M246.7 498.6h0M247.2 496.5h0M247.6 493.9h0M248 495.4h0M248.4 496.1h0M248.8 493.4h0M249.3 492.6h0M249.7 494.2h0M250.1 492.8h0M250.5 490.9h0M250.9 491.3h0M251.4 490.4h0M251.8 491.1h0M252.2 490.5h0M252.6 491.1h0M253 490.2h0M253.5 487.4h0M253.9 489h0M254.3 489.1h0M254.7 488.2h0M255.1 488.3h0M255.6 486.3h0M256 485.5h0M256.4 486.9h0M256.8 484.5h0M257.2 483h0M257.7 485.7h0M258.1 483.6h0M258.5 483.6h0M258.9 482.1h0M259.3 481.8h0M259.8 481.6h0M260.2 481.9h0M260.6 482.1h0M261 479.3h0M261.4 481.6h0M261.9 479.5h0M262.3 479.2h0M262.7 480.3h0M263.1 479.2h0M263.5 477.5h0M264 480.1h0M264.4 477.3h0M264.8 477.8h0M265.2 477.4h0M265.6 478h0M266.1 476h0M266.5 476.8h0M266.9 475h0M267.3 476.1h0M267.7 474.1h0M268.2 474.1h0M268.6 475.5h0M269 473.8h0M269.4 473.3h0M269.8 474.6h0M270.3 472.7h0M270.7 471.4h0M271.1 472.2h0M271.5 470.4h0M271.9 471.8h0M272.4 471.5h0M272.8 469.8h0M273.2 469.4h0M273.6 469.6h0M274 469.2h0M274.5 468.1h0M274.9 468.9h0M275.3 466.6h0M275.7 467.5h0M276.1 467.1h0M276.6 466.9h0M277 466.9h0M277.4 465.5h0M277.8 466.4h0M278.2 465.5h0M278.7 464.9h0M279.1 464h0M279.5 463.8h0M279.9 464.5h0M280.3 463.2h0M280.8 463.5h0M281.2 463.8h0M281.6 463.3h0M282 463.3h0M282.4 461.7h0M282.9 460.7h0M283.3 461.7h0M283.7 460.8h0M284.1 460.9h0M284.5 459.8h0M285 460.1h0M285.4 459.4h0M285.8 458.9h0M286.2 458.4h0M286.6 457.9h0M287.1 457.3h0M287.5 456.9h0M287.9 456.9h0M288.3 455.6h0M288.7 456.5h0M289.2 455h0M289.6 455.2h0M290 454.1h0M290.4 453.6h0M290.8 454.6h0M291.3 452.7h0M291.7 451.8h0M292.1 451.7h0M292.5 451.5h0M292.9 452.5h0M293.4 451h0M293.8 451h0M294.2 449.4h0M294.6 449.8h0M295 449.5h0M295.5 449.8h0M295.9 447.9h0M296.3 448.2h0M296.7 447.6h0M297.1 446.5h0M297.6 446.6h0M298 446.1h0M298.4 444.5h0M298.8 445.7h0M299.2 445.2h0M299.7 444.3h0M300.1 443.4h0M300.5 444.4h0M300.9 443.4h0M301.3 443.3h0M301.8 443.1h0M302.2 441.6h0M302.6 441.9h0M303 440.9h0M303.4 440.6h0M303.9 440.1h0M304.3 439.7h0M304.7 439.9h0M305.1 438.9h0M305.5 438.3h0M306 437.8h0M306.4 437.7h0M306.8 436.6h0M307.2 436.3h0M307.6 436.1h0M308.1 435.4h0M308.5 435.2h0M308.9 434.5h0M309.3 435.3h0M309.7 434.5h0M310.2 433.6h0M310.6 432.9h0M311 433.5h0M311.4 432.2h0M311.8 431.5h0M312.3 431.2h0M312.7 430.8h0M313.1 430.8h0M313.5 429.7h0M313.9 430.2h0M314.4 428.3h0M314.8 428.6h0M315.2 427.3h0M315.6 428.2h0M316 426.7h0M316.5 426.3h0M316.9 426.3h0M317.3 426h0M317.7 424.4h0M318.1 424.2h0M318.6 423.3h0M319 423.5h0M319.4 422.9h0M319.8 422.2h0M320.2 421.6h0M320.7 421.2h0M321.1 420.5h0M321.5 420.6h0M321.9 420.5h0M322.3 418.5h0M322.8 418.7h0M323.2 418.1h0M323.6 417.9h0M324 416.8h0M324.4 416.6h0M324.9 415.6h0M325.3 415.8h0M325.7 415h0M326.1 414.3h0M326.5 414h0M327 413.2h0M327.4 412h0M327.8 412.4h0M328.2 411.7h0M328.6 410.9h0M329.1 410.8h0M329.5 410.3h0M329.9 408.7h0M330.3 408.3h0M330.7 408.7h0M331.2 408.1h0M331.6 406.6h0M332 405.8h0M332.4 405.4h0M332.8 404.9h0M333.3 403.9h0M333.7 404h0M334.1 402.9h0M334.5 402.3h0M334.9 402.6h0M335.4 401.4h0M335.8 401h0M336.2 400.7h0M336.6 400.2h0M337 399.1h0M337.5 398.7h0M337.9 397.8h0M338.3 398.2h0M338.7 397.2h0M339.1 395.9h0M339.6 395.7h0M340 395.4h0M179.5 554.7h0M188.4 550.6h0M195 549h0M199 551.5h0M196.6 549.8h0M202.3 545h0M204.8 549.8h0M207.2 536h0M209.7 541.7h0M213.7 550.7h0M218.6 546.3h0M214.6 522.1h0M212.9 528.7h0M216.2 535.2h0M220.3 538.4h0M225.1 530.3h0M227.6 527h0" fill="none" stroke="#0080ff" stroke-width="5.4" stroke-linecap="round"/>
</g>
<g>
<path d="M124 298.1L124 294.8M124 66L124 69.3M168.9 298.1L168.9 296.4M168.9 66L168.9 67.7M213.9 298.1L213.9 294.8M213.9 66L213.9 69.3M258.8 298.1L258.8 296.4M258.8 66L258.8 67.7M303.7 298.1L303.7 294.8M303.7 66L303.7 69.3M348.7 298.1L348.7 296.4M348.7 66L348.7 67.7M393.6 298.1L393.6 294.8M393.6 66L393.6 69.3M124 298.1L127.3 298.1M393.6 298.1L390.3 298.1M124 259.4L125.7 259.4M393.6 259.4L391.9 259.4M124 220.7L127.3 220.7M393.6 220.7L390.3 220.7M124 182.1L125.7 182.1M393.6 182.1L391.9 182.1M124 143.4L127.3 143.4M393.6 143.4L390.3 143.4M124 104.7L125.7 104.7M393.6 104.7L391.9 104.7M124 66L127.3 66M393.6 66L390.3 66M145 554.3L145 552.1M145 321.7L145 323.9M161.9 554.3L161.9 552.1M161.9 321.7L161.9 323.9M173.8 554.3L173.8 552.1M173.8 321.7L173.8 323.9M183.1 554.3L183.1 552.1M183.1 321.7L183.1 323.9M190.6 554.3L190.6 552.1M190.6 321.7L190.6 323.9M197 554.3L197 552.1M197 321.7L197 323.9M202.5 554.3L202.5 552.1M202.5 321.7L202.5 323.9M207.4 554.3L207.4 552.1M207.4 321.7L207.4 323.9M211.8 554.3L211.8 550.1M211.8 321.7L211.8 325.9M240.5 554.3L240.5 552.1M240.5 321.7L240.5 323.9M257.4 554.3L257.4 552.1M257.4 321.7L257.4 323.9M269.3 554.3L269.3 552.1M269.3 321.7L269.3 323.9M278.6 554.3L278.6 552.1M278.6 321.7L278.6 323.9M286.1 554.3L286.1 552.1M286.1 321.7L286.1 323.9M292.5 554.3L292.5 552.1M292.5 321.7L292.5 323.9M298 554.3L298 552.1M298 321.7L298 323.9M302.9 554.3L302.9 552.1M302.9 321.7L302.9 323.9M307.3 554.3L307.3 550.1M307.3 321.7L307.3 325.9M336 554.3L336 552.1M336 321.7L336 323.9M352.9 554.3L352.9 552.1M352.9 321.7L352.9 323.9M364.8 554.3L364.8 552.1M364.8 321.7L364.8 323.9M374.1 554.3L374.1 552.1M374.1 321.7L374.1 323.9M381.6 554.3L381.6 552.1M381.6 321.7L381.6 323.9M388 554.3L388 552.1M388 321.7L388 323.9M393.5 554.3L393.5 552.1M393.5 321.7L393.5 323.9M124 553.8L126.2 553.8M393.6 553.8L391.4 553.8M124 545.4L126.2 545.4M393.6 545.4L391.4 545.4M124 538.8L126.2 538.8M393.6 538.8L391.4 538.8M124 533.5L126.2 533.5M393.6 533.5L391.4 533.5M124 529L126.2 529M393.6 529L391.4 529M124 525.1L126.2 525.1M393.6 525.1L391.4 525.1M124 521.6L126.2 521.6M393.6 521.6L391.4 521.6M124 518.5L128.2 518.5M393.6 518.5L389.4 518.5M124 498.2L126.2 498.2M393.6 498.2L391.4 498.2M124 486.2L126.2 486.2M393.6 486.2L391.4 486.2M124 477.8L126.2 477.8M393.6 477.8L391.4 477.8M124 471.2L126.2 471.2M393.6 471.2L391.4 471.2M124 465.9L126.2 465.9M393.6 465.9L391.4 465.9M124 461.4L126.2 461.4M393.6 461.4L391.4 461.4M124 457.5L126.2 457.5M393.6 457.5L391.4 457.5M124 454L126.2 454M393.6 454L391.4 454M124 450.9L128.2 450.9M393.6 450.9L389.4 450.9M124 430.6L126.2 430.6M393.6 430.6L391.4 430.6M124 418.6L126.2 418.6M393.6 418.6L391.4 418.6M124 410.2L126.2 410.2M393.6 410.2L391.4 410.2M124 403.6L126.2 403.6M393.6 403.6L391.4 403.6M124 398.3L126.2 398.3M393.6 398.3L391.4 398.3M124 393.8L126.2 393.8M393.6 393.8L391.4 393.8M124 389.9L126.2 389.9M393.6 389.9L391.4 389.9M124 386.4L126.2 386.4M393.6 386.4L391.4 386.4M124 383.3L128.2 383.3M393.6 383.3L389.4 383.3M124 363L126.2 363M393.6 363L391.4 363M124 351L126.2 351M393.6 351L391.4 351M124 342.6L126.2 342.6M393.6 342.6L391.4 342.6M124 336L126.2 336M393.6 336L391.4 336M124 330.7L126.2 330.7M393.6 330.7L391.4 330.7M124 326.2L126.2 326.2M393.6 326.2L391.4 326.2M124 322.3L126.2 322.3M393.6 322.3L391.4 322.3" stroke="#6c6c6c" stroke-width="0.9" fill="none"/>
<rect x="124.0" y="66.0" width="269.6" height="232.10000000000002" fill="none" stroke="#6c6c6c" stroke-width="1"/>
<rect x="124.0" y="321.7" width="269.55" height="232.59999999999997" fill="none" stroke="#6c6c6c" stroke-width="1"/>
</g>
<g>
<circle cx="230.2" cy="246.9" r="5" fill="#1a9e14"/>
<circle cx="230.2" cy="259.6" r="5" fill="#ff0000"/>
<circle cx="230.2" cy="272.3" r="5" fill="#a40021"/>
<circle cx="230.2" cy="285.1" r="5" fill="#ff8000"/>
<circle cx="307" cy="246.9" r="5" fill="#9a9a9a"/>
<circle cx="307" cy="259.6" r="5" fill="#565656"/>
<circle cx="307" cy="272.3" r="5" fill="#0080ff"/>
</g>
<g>
<text transform="translate(124,311.8) scale(1,1.06)" font-size="13.3" text-anchor="middle">0</text>
<text transform="translate(213.9,311.8) scale(1,1.06)" font-size="13.3" text-anchor="middle">5</text>
<text transform="translate(303.7,311.8) scale(1,1.06)" font-size="13.3" text-anchor="middle">10</text>
<text transform="translate(393.6,311.8) scale(1,1.06)" font-size="13.3" text-anchor="middle">15</text>
<text transform="translate(118.8,302.4) scale(1,1.06)" font-size="13.3" text-anchor="end">0</text>
<text transform="translate(118.8,225) scale(1,1.06)" font-size="13.3" text-anchor="end">4</text>
<text transform="translate(118.8,147.7) scale(1,1.06)" font-size="13.3" text-anchor="end">8</text>
<text transform="translate(118.8,70.3) scale(1,1.06)" font-size="13.3" text-anchor="end">12</text>
<text transform="translate(211.8,567) scale(1,1.06)" font-size="13.3" text-anchor="middle">1</text>
<text transform="translate(307.8,567) scale(1,1.06)" font-size="13.3" text-anchor="middle">10</text>
<text transform="translate(122.1,387) scale(1,1.06)" font-size="13.3" text-anchor="end">10</text>
<text transform="translate(121,454.6) scale(1,1.06)" font-size="13.3" text-anchor="end">1</text>
<text transform="translate(121,522.2) scale(1,1.06)" font-size="13.3" text-anchor="end">0.1</text>
<text transform="translate(132,89.5) scale(1,1.06)" font-size="13.6">(TMTSF)<tspan font-size="8.6" dy="3.8">2</tspan><tspan dy="-3.8">PF</tspan><tspan font-size="8.6" dy="3.8">6</tspan></text>
<text transform="translate(381,290.2) scale(1,1.06)" font-size="15.3" text-anchor="middle">(a)</text>
<text transform="translate(379.8,544.2) scale(1,1.06)" font-size="15.0" text-anchor="middle">(b)</text>
<text transform="translate(184,476) scale(1,1.06)" font-size="14" text-anchor="middle">T</text>
<text transform="translate(246.2,540.3) scale(1,1.06)" font-size="14">T<tspan font-size="8.6" dy="-7.2">2</tspan></text>
<text transform="translate(259,584.4) scale(1,1.06)" font-size="15.2" text-anchor="middle">T [ K ]</text>
<text transform="translate(94,182.2) rotate(-90) scale(1,1.06)" font-size="14.8" text-anchor="middle">ρ<tspan font-size="9.6" dy="5">a</tspan><tspan dy="-5"> [ μΩ cm ]</tspan></text>
<text transform="translate(94,428.2) rotate(-90) scale(1,1.06)" font-size="14.8" text-anchor="middle">Δρ<tspan font-size="9.6" dy="5">a</tspan><tspan dy="-5"> [ μΩ cm ]</tspan></text>
<text transform="translate(246.4,250.6) scale(1,1.06)" font-size="10.15" text-anchor="start">8.4 kbar</text>
<text transform="translate(246.4,263.3) scale(1,1.06)" font-size="10.15" text-anchor="start">11.8 kbar</text>
<text transform="translate(246.4,276) scale(1,1.06)" font-size="10.15" text-anchor="start">13.8 kbar</text>
<text transform="translate(246.4,288.8) scale(1,1.06)" font-size="10.15" text-anchor="start">16.3 kbar</text>
<text transform="translate(323.4,250.6) scale(1,1.06)" font-size="10.15" text-anchor="start">16.9 kbar</text>
<text transform="translate(323.4,263.3) scale(1,1.06)" font-size="10.15" text-anchor="start">19.0 kbar</text>
<text transform="translate(323.4,276) scale(1,1.06)" font-size="10.15" text-anchor="start">20.8 kbar</text>
</g>
</svg>
</body></html>
